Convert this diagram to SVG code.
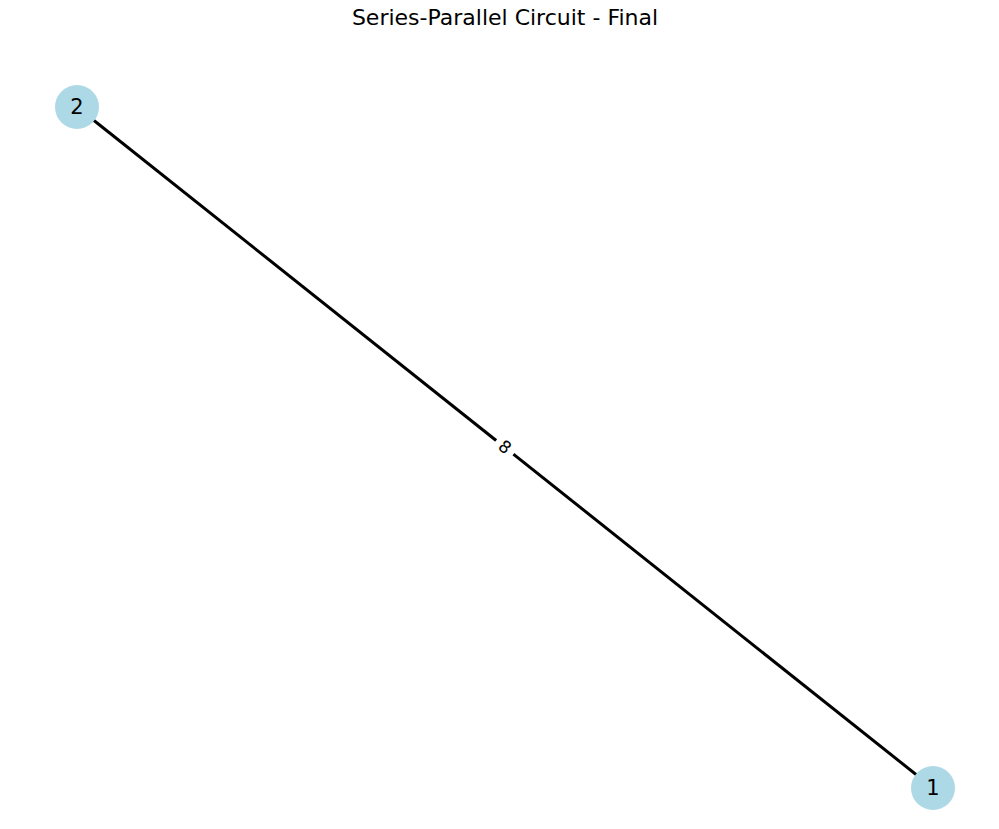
<svg xmlns="http://www.w3.org/2000/svg" width="999" height="829" viewBox="0 0 999 829">
<style>
.node{fill:#add8e6;}
.nlabel{font-family:"DejaVu Sans",sans-serif;font-size:21px;fill:#000;text-anchor:middle;dominant-baseline:central;}
.edge{stroke:#000;stroke-width:3;}
.elabel{font-family:"DejaVu Sans",sans-serif;font-size:17px;fill:#000;text-anchor:middle;dominant-baseline:central;}
.title{font-family:"DejaVu Sans",sans-serif;font-size:22px;fill:#000;text-anchor:middle;}
</style>
<rect width="999" height="829" fill="#fff"/>
<text class="title" x="505" y="25">Series-Parallel Circuit - Final</text>
<g id="connectors">
<line class="edge" x1="77" y1="107" x2="933" y2="788"/>
<g transform="translate(505,447) rotate(38.5)">
<rect x="-11" y="-11" width="22" height="22" fill="#fff"/>
<text class="elabel" x="0" y="0">8</text>
</g>
</g>
<g id="node-2">
<circle class="node" cx="77" cy="107" r="22"/>
<text class="nlabel" x="77" y="107">2</text>
</g>
<g id="node-1">
<circle class="node" cx="933" cy="788" r="22"/>
<text class="nlabel" x="933" y="788">1</text>
</g>
</svg>
